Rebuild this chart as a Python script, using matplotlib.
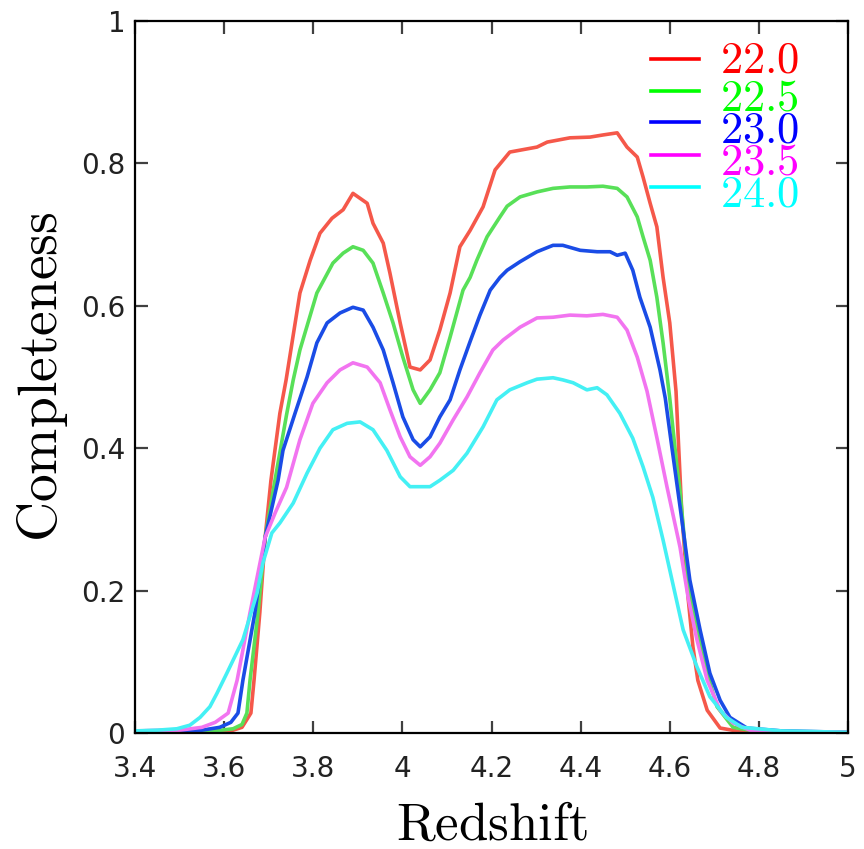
import numpy as np
import matplotlib
matplotlib.use('Agg')
import matplotlib.pyplot as plt
from matplotlib.lines import Line2D
from matplotlib.ticker import FuncFormatter, MultipleLocator

plt.rcParams['mathtext.fontset'] = 'cm'
plt.rcParams['font.family'] = 'DejaVu Sans'

# magnitude limits (legend labels)
mag_labels = ['22.0', '22.5', '23.0', '23.5', '24.0']

# completeness vs redshift
z_22_0 = [3.40, 3.55, 3.60, 3.62, 3.64, 3.660, 3.667, 3.680, 3.692, 3.705, 3.725, 3.739, 3.770,
          3.793, 3.815, 3.842, 3.867, 3.889, 3.921, 3.934, 3.957, 3.972, 3.995, 4.017, 4.040,
          4.062, 4.084, 4.107, 4.129, 4.152, 4.181, 4.208, 4.241, 4.302, 4.325, 4.376, 4.421,
          4.450, 4.482, 4.504, 4.527, 4.540, 4.556, 4.571, 4.585, 4.600, 4.614, 4.627, 4.641,
          4.652, 4.663, 4.684, 4.713, 4.758, 4.85, 5.00]
c_22_0 = [0.002, 0.002, 0.003, 0.004, 0.008, 0.028, 0.074, 0.169, 0.275, 0.355, 0.449, 0.496, 0.618,
          0.664, 0.702, 0.723, 0.735, 0.758, 0.744, 0.716, 0.688, 0.646, 0.576, 0.514, 0.510,
          0.524, 0.566, 0.618, 0.683, 0.706, 0.739, 0.791, 0.816, 0.823, 0.830, 0.836, 0.837,
          0.840, 0.843, 0.823, 0.809, 0.781, 0.744, 0.711, 0.640, 0.576, 0.480, 0.309, 0.191,
          0.121, 0.074, 0.032, 0.007, 0.002, 0.001, 0.001]

z_22_5 = [3.40, 3.58, 3.62, 3.64, 3.651, 3.658, 3.676, 3.692, 3.714, 3.740, 3.755, 3.770, 3.808,
          3.844, 3.867, 3.889, 3.912, 3.934, 3.957, 3.979, 4.001, 4.024, 4.040, 4.062, 4.084,
          4.107, 4.136, 4.152, 4.167, 4.190, 4.219, 4.235, 4.264, 4.302, 4.338, 4.376, 4.414,
          4.450, 4.482, 4.504, 4.527, 4.540, 4.556, 4.571, 4.585, 4.600, 4.616, 4.623, 4.641,
          4.661, 4.684, 4.706, 4.742, 4.780, 4.85, 5.00]
c_22_5 = [0.002, 0.003, 0.006, 0.012, 0.028, 0.074, 0.169, 0.275, 0.355, 0.447, 0.496, 0.538, 0.618,
          0.660, 0.674, 0.683, 0.678, 0.660, 0.618, 0.576, 0.528, 0.482, 0.463, 0.482, 0.506,
          0.556, 0.622, 0.640, 0.664, 0.697, 0.725, 0.740, 0.753, 0.760, 0.765, 0.767, 0.767,
          0.768, 0.765, 0.753, 0.725, 0.697, 0.664, 0.612, 0.548, 0.470, 0.375, 0.340, 0.215,
          0.145, 0.084, 0.037, 0.008, 0.004, 0.002, 0.001]

z_23_0 = [3.40, 3.55, 3.59, 3.615, 3.631, 3.642, 3.669, 3.692, 3.721, 3.732, 3.759, 3.786, 3.808,
          3.831, 3.860, 3.889, 3.912, 3.934, 3.957, 3.979, 4.001, 4.024, 4.040, 4.062, 4.084,
          4.107, 4.129, 4.152, 4.174, 4.197, 4.219, 4.235, 4.264, 4.302, 4.338, 4.360, 4.399,
          4.437, 4.466, 4.482, 4.500, 4.517, 4.533, 4.556, 4.578, 4.590, 4.605, 4.627, 4.645,
          4.668, 4.690, 4.713, 4.735, 4.773, 4.85, 5.00]
c_23_0 = [0.003, 0.004, 0.008, 0.015, 0.028, 0.074, 0.169, 0.275, 0.355, 0.397, 0.449, 0.500, 0.548,
          0.576, 0.590, 0.598, 0.594, 0.570, 0.538, 0.492, 0.444, 0.412, 0.402, 0.416, 0.444,
          0.468, 0.510, 0.550, 0.587, 0.622, 0.640, 0.650, 0.662, 0.676, 0.685, 0.685, 0.678,
          0.676, 0.676, 0.671, 0.674, 0.650, 0.612, 0.570, 0.510, 0.470, 0.400, 0.300, 0.215,
          0.145, 0.084, 0.046, 0.022, 0.007, 0.003, 0.001]

z_23_5 = [3.40, 3.50, 3.55, 3.58, 3.609, 3.629, 3.658, 3.692, 3.715, 3.740, 3.770, 3.799, 3.831,
          3.860, 3.889, 3.921, 3.950, 3.972, 3.995, 4.017, 4.040, 4.062, 4.084, 4.114, 4.145,
          4.174, 4.203, 4.226, 4.264, 4.302, 4.338, 4.376, 4.414, 4.450, 4.482, 4.504, 4.527,
          4.549, 4.571, 4.594, 4.623, 4.641, 4.661, 4.684, 4.713, 4.742, 4.780, 4.85, 5.00]
c_23_5 = [0.003, 0.004, 0.008, 0.015, 0.028, 0.074, 0.169, 0.275, 0.310, 0.345, 0.412, 0.463, 0.492,
          0.510, 0.520, 0.514, 0.492, 0.454, 0.416, 0.388, 0.376, 0.388, 0.407, 0.440, 0.472,
          0.506, 0.538, 0.552, 0.570, 0.583, 0.584, 0.587, 0.586, 0.588, 0.584, 0.566, 0.528,
          0.480, 0.415, 0.345, 0.261, 0.191, 0.131, 0.074, 0.032, 0.014, 0.004, 0.002, 0.001]

z_24_0 = [3.40, 3.45, 3.494, 3.523, 3.546, 3.568, 3.584, 3.606, 3.642, 3.674, 3.687, 3.707, 3.725,
          3.755, 3.786, 3.815, 3.844, 3.876, 3.905, 3.934, 3.965, 3.995, 4.017, 4.062, 4.084,
          4.114, 4.145, 4.181, 4.212, 4.241, 4.280, 4.302, 4.338, 4.360, 4.383, 4.414, 4.437,
          4.459, 4.488, 4.517, 4.540, 4.562, 4.585, 4.605, 4.630, 4.661, 4.690, 4.727, 4.762,
          4.85, 5.00]
c_24_0 = [0.003, 0.004, 0.006, 0.011, 0.022, 0.037, 0.056, 0.084, 0.131, 0.197, 0.239, 0.281, 0.295,
          0.323, 0.365, 0.400, 0.426, 0.435, 0.437, 0.426, 0.397, 0.360, 0.346, 0.346, 0.355,
          0.369, 0.393, 0.430, 0.468, 0.482, 0.492, 0.497, 0.499, 0.496, 0.492, 0.482, 0.485,
          0.475, 0.449, 0.414, 0.374, 0.331, 0.271, 0.215, 0.145, 0.093, 0.051, 0.022, 0.008,
          0.003, 0.001]

curves = [(z_22_0, c_22_0), (z_22_5, c_22_5), (z_23_0, c_23_0), (z_23_5, c_23_5), (z_24_0, c_24_0)]
line_colors = ['#f5584a', '#58e058', '#1a4ce6', '#f274f0', '#44f0f4']
label_colors = ['#ff0000', '#00ff00', '#0000ff', '#ff00ff', '#00ffff']

fig = plt.figure(figsize=(8.64, 8.49), dpi=100)
ax = fig.add_axes([0.1563, 0.1366, 0.8252, 0.8386])

for (z, c), col in zip(curves, line_colors):
    ax.plot(z, c, color=col, lw=2.6, solid_joinstyle='round')

ax.set_xlim(3.4, 5.0)
ax.set_ylim(0, 1)
ax.xaxis.set_major_locator(MultipleLocator(0.2))
ax.yaxis.set_major_locator(MultipleLocator(0.2))
fmt = FuncFormatter(lambda v, p: '%g' % round(v, 2))
ax.xaxis.set_major_formatter(fmt)
ax.yaxis.set_major_formatter(fmt)

for s in ax.spines.values():
    s.set_linewidth(1.6)
    s.set_color('black')
ax.tick_params(direction='in', length=9, width=1.6, color='#404040',
               top=True, right=True, labelsize=20, labelcolor='#222222')
ax.tick_params(axis='x', pad=16)
ax.tick_params(axis='y', pad=7)

ax.set_xlabel(r'$\mathrm{Redshift}$', fontsize=38, labelpad=11)
ax.set_ylabel(r'$\mathrm{Completeness}$', fontsize=40, labelpad=8)

# hand-built key: short line + coloured number
key_line_y = [0.947, 0.902, 0.858, 0.812, 0.767]
key_text_y = [0.928, 0.874, 0.829, 0.785, 0.739]
for lab, lc, ly, ty in zip(mag_labels, label_colors, key_line_y, key_text_y):
    ax.add_line(Line2D([0.724, 0.791], [ly, ly], transform=ax.transAxes, color=lc, lw=2.6))
    ax.text(0.820, ty, r'$\mathrm{%s}$' % lab, transform=ax.transAxes, color=lc,
            fontsize=32, va='baseline', ha='left')

plt.savefig('out.png', dpi=100)
